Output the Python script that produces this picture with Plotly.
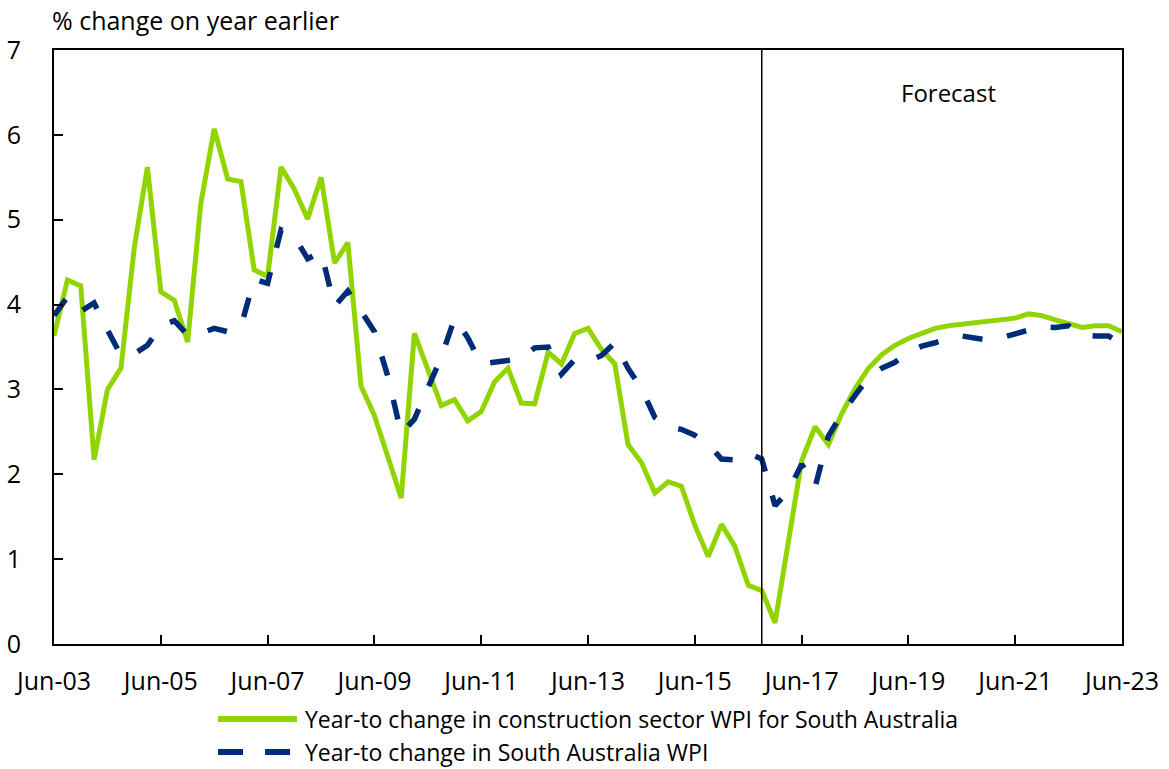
import pandas as pd
import plotly.graph_objects as go

# Quarterly observations, Jun-03 to Jun-23
quarters = pd.date_range("2003-06-01", "2023-06-01", freq="3MS")

construction_wpi = [
    3.63, 4.29, 4.22,
    2.17, 3.00, 3.25, 4.67,
    5.62, 4.15, 4.05, 3.56,
    5.19, 6.07, 5.48, 5.45,
    4.41, 4.33, 5.62, 5.36,
    5.01, 5.50, 4.49, 4.73,
    3.04, 2.69, 2.20, 1.72,
    3.66, 3.25, 2.81, 2.88,
    2.63, 2.74, 3.09, 3.25,
    2.84, 2.83, 3.44, 3.30,
    3.66, 3.72, 3.47, 3.30,
    2.35, 2.14, 1.78, 1.91,
    1.86, 1.40, 1.03, 1.41,
    1.15, 0.69, 0.63, 0.25,
    1.19, 2.16, 2.56, 2.35,
    2.71, 3.01, 3.25, 3.41,
    3.52, 3.60, 3.66, 3.72,
    3.75, 3.77, 3.79, 3.81,
    3.83, 3.84, 3.89, 3.87,
    3.82, 3.78, 3.73, 3.75,
    3.75, 3.68,
]

sa_wpi = [
    3.87, 4.09, 3.92,
    4.02, 3.70, 3.40, 3.42,
    3.52, 3.75, 3.81, 3.64,
    3.66, 3.72, 3.68, 3.74,
    4.30, 4.25, 4.88, 4.80,
    4.54, 4.62, 3.98, 4.16,
    3.92, 3.68, 3.15, 2.48,
    2.65, 3.00, 3.38, 3.84,
    3.61, 3.30, 3.32, 3.33,
    3.36, 3.49, 3.50, 3.18,
    3.35, 3.33, 3.40, 3.55,
    3.25, 3.01, 2.67, 2.56,
    2.53, 2.46, 2.35, 2.18,
    2.17, 2.25, 2.18, 1.63,
    1.80, 2.12, 1.85, 2.45,
    2.71, 2.93, 3.14, 3.25,
    3.32, 3.44, 3.51, 3.55,
    3.60, 3.63, 3.61, 3.58,
    3.61, 3.66, 3.70, 3.74,
    3.73, 3.75, 3.64, 3.63,
    3.63, 3.53,
]

tick_dates = ["2003-06-01", "2005-06-01", "2007-06-01", "2009-06-01", "2011-06-01",
              "2013-06-01", "2015-06-01", "2017-06-01", "2019-06-01", "2021-06-01",
              "2023-06-01"]
tick_labels = ["Jun-03", "Jun-05", "Jun-07", "Jun-09", "Jun-11", "Jun-13",
               "Jun-15", "Jun-17", "Jun-19", "Jun-21", "Jun-23"]
forecast_start = "2016-09-01"

series_names = [
    "Year-to change in construction sector WPI for South Australia",
    "Year-to change in South Australia WPI",
]

FONT = "Open Sans, sans-serif"
GREEN = "#92D400"
NAVY = "#002C77"
styles = [
    dict(color=GREEN, width=5),
    dict(color=NAVY, width=5.5, dash="20px,25px"),
]

fig = go.Figure()
for values, name, style in zip([construction_wpi, sa_wpi], series_names, styles):
    fig.add_trace(go.Scatter(x=quarters, y=values, mode="lines", name=name,
                             line=style, showlegend=False))

# Forecast divider and labels
fig.add_shape(type="line", xref="x", yref="paper",
              x0=forecast_start, x1=forecast_start, y0=0, y1=1,
              line=dict(color="black", width=1.5))
fig.add_annotation(x="2020-03-01", y=6.5, xref="x", yref="y", text="Forecast",
                   showarrow=False, font=dict(family=FONT, size=24, color="black"))
fig.add_annotation(x=0, y=1, xref="paper", yref="paper", yanchor="bottom",
                   xanchor="left", yshift=11, xshift=-4, text="% change on year earlier",
                   showarrow=False, font=dict(family=FONT, size=25, color="black"))

# Legend below the plot: line sample followed by the series name
legend_rows = [-0.1263, -0.1818]
legend_dash = ["solid", "25px,22px"]
legend_ends = [0.2275, 0.2210]
for name, style, ly, dash, x_end in zip(series_names, styles, legend_rows,
                                         legend_dash, legend_ends):
    fig.add_shape(type="line", xref="paper", yref="paper",
                  x0=0.1536, x1=x_end, y0=ly, y1=ly,
                  line=dict(color=style["color"], width=6, dash=dash))
    fig.add_annotation(x=0.2331, y=ly, xref="paper", yref="paper",
                       xanchor="left", yanchor="middle", text=name,
                       showarrow=False, font=dict(family=FONT, size=23, color="black"))

fig.update_layout(
    width=1169, height=769,
    margin=dict(l=54, r=47, t=50, b=125),
    paper_bgcolor="white", plot_bgcolor="white",
    font=dict(family=FONT, size=24, color="black"),
    showlegend=False,
)
fig.update_xaxes(
    range=["2003-06-01", "2023-06-01"],
    tickvals=tick_dates, ticktext=tick_labels,
    ticks="inside", ticklen=9, tickwidth=2, tickcolor="black",
    showline=True, linecolor="black", linewidth=2, mirror=True,
    showgrid=False, zeroline=False, ticklabelstandoff=14,
    tickfont=dict(size=25), automargin=False,
)
fig.update_yaxes(
    range=[0, 7], dtick=1,
    ticks="inside", ticklen=9, tickwidth=2, tickcolor="black",
    showline=True, linecolor="black", linewidth=2, mirror=True,
    showgrid=False, zeroline=False, ticklabelstandoff=26,
    tickfont=dict(size=25), automargin=False,
)

fig.write_html("out.html")
